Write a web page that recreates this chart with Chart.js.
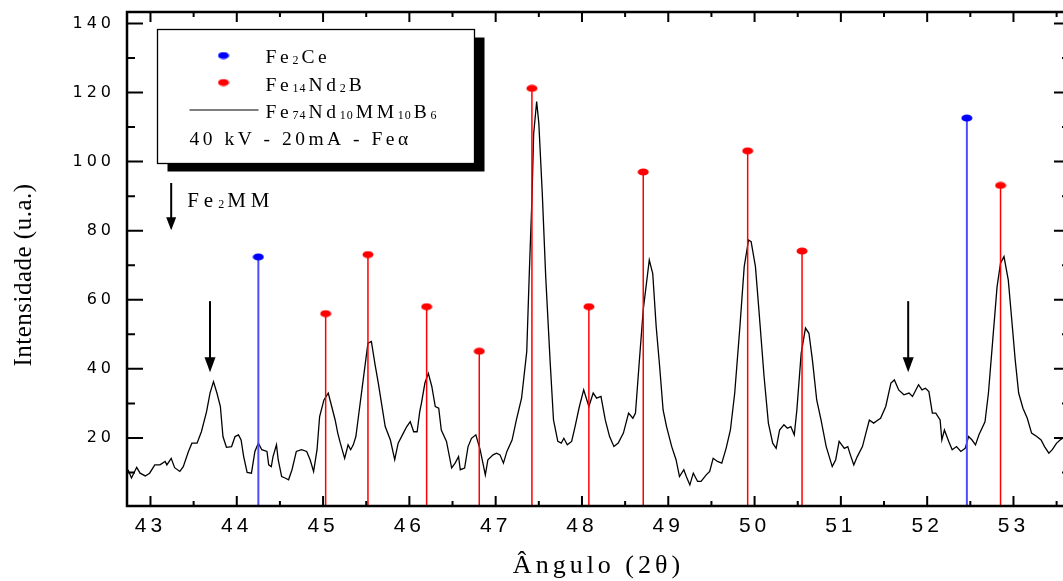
<!DOCTYPE html>
<html>
<head>
<meta charset="utf-8">
<script src="https://cdn.jsdelivr.net/npm/chart.js@4.4.1/dist/chart.umd.min.js"></script>
<style>
  html, body { margin: 0; padding: 0; background: #fff; overflow: hidden; }
  #wrap { width: 1063px; height: 581px; overflow: hidden; }
  canvas { display: block; }
</style>
</head>
<body>
<div id="wrap"><canvas id="chart" width="1080" height="581"></canvas></div>
<script>
// XRD scan Fe74Nd10MM10B6
const scanAngle = [
  42.74, 42.78, 42.84, 42.88, 42.94, 42.99, 43.05, 43.11, 43.17, 43.19, 43.24, 43.28, 43.34, 43.38,
  43.44, 43.48, 43.54, 43.59, 43.65, 43.69, 43.73, 43.77, 43.81, 43.84, 43.88, 43.94, 43.98, 44.02,
  44.05, 44.08, 44.12, 44.17, 44.21, 44.25, 44.29, 44.35, 44.37, 44.40, 44.42, 44.46, 44.48, 44.52,
  44.56, 44.60, 44.64, 44.69, 44.75, 44.81, 44.85, 44.89, 44.93, 44.96, 45.01, 45.06, 45.10, 45.14,
  45.17, 45.20, 45.25, 45.29, 45.32, 45.35, 45.38, 45.41, 45.47, 45.52, 45.56, 45.60, 45.64, 45.68,
  45.72, 45.78, 45.83, 45.87, 45.93, 45.97, 46.01, 46.05, 46.09, 46.12, 46.14, 46.18, 46.22, 46.26,
  46.30, 46.34, 46.37, 46.43, 46.49, 46.53, 46.57, 46.59, 46.64, 46.68, 46.72, 46.77, 46.82, 46.88,
  46.91, 46.97, 47.01, 47.05, 47.09, 47.13, 47.19, 47.24, 47.30, 47.36, 47.39, 47.42, 47.44, 47.475,
  47.50, 47.54, 47.58, 47.63, 47.67, 47.72, 47.76, 47.79, 47.83, 47.88, 47.92, 47.97, 48.02, 48.08,
  48.13, 48.17, 48.22, 48.27, 48.32, 48.37, 48.42, 48.48, 48.54, 48.59, 48.62, 48.66, 48.71, 48.78,
  48.82, 48.86, 48.90, 48.94, 48.98, 49.04, 49.09, 49.13, 49.18, 49.21, 49.25, 49.29, 49.34, 49.38,
  49.44, 49.48, 49.52, 49.57, 49.62, 49.67, 49.72, 49.77, 49.83, 49.88, 49.93, 49.96, 50.01, 50.05,
  50.11, 50.16, 50.21, 50.25, 50.29, 50.34, 50.38, 50.42, 50.46, 50.49, 50.54, 50.59, 50.63, 50.67,
  50.72, 50.77, 50.83, 50.90, 50.94, 50.98, 51.04, 51.08, 51.11, 51.15, 51.19, 51.25, 51.29, 51.33,
  51.38, 51.43, 51.46, 51.52, 51.58, 51.62, 51.67, 51.73, 51.79, 51.83, 51.90, 51.94, 51.98, 52.02,
  52.06, 52.10, 52.15, 52.17, 52.20, 52.25, 52.29, 52.34, 52.39, 52.44, 52.48, 52.52, 52.56, 52.60,
  52.67, 52.71, 52.76, 52.81, 52.85, 52.89, 52.94, 52.98, 53.02, 53.06, 53.11, 53.16, 53.21, 53.27,
  53.32, 53.36, 53.41, 53.45, 53.50, 53.54, 53.57, 53.66,
];
const scanIntensity = [
  10.8, 8.4, 11.5, 9.8, 9.0, 9.8, 12.2, 12.2, 13.2, 12.2, 14.1, 11.4, 10.3, 11.7,
  16.1, 18.5, 18.5, 21.8, 27.6, 33.0, 36.3, 33.0, 29.1, 20.4, 17.3, 17.5, 20.4, 20.9,
  19.4, 14.6, 10.0, 9.8, 16.1, 18.5, 16.6, 16.1, 12.2, 11.7, 14.6, 18.0, 13.7, 8.8,
  8.4, 7.9, 10.8, 16.1, 16.6, 16.1, 13.7, 10.3, 16.6, 26.2, 31.0, 33.0, 29.1, 25.2,
  21.4, 18.5, 14.1, 18.0, 16.6, 18.0, 20.4, 26.2, 37.8, 47.4, 47.9, 41.6, 35.9, 29.6,
  23.3, 19.4, 13.7, 18.5, 21.4, 23.3, 24.7, 21.8, 21.8, 27.6, 30.1, 35.9, 38.7, 34.9,
  29.1, 28.6, 22.3, 19.0, 11.3, 12.7, 14.6, 10.8, 11.3, 17.5, 19.9, 20.9, 16.6, 9.3,
  13.7, 15.1, 15.6, 15.1, 12.7, 16.1, 19.4, 25.2, 31.5, 45.0, 68.0, 89.0, 108.0, 117.4,
  111.1, 90.8, 66.6, 42.6, 25.2, 19.0, 18.5, 19.9, 18.0, 19.0, 23.3, 29.1, 33.9, 29.1,
  33.0, 31.5, 32.0, 25.2, 20.4, 17.5, 18.5, 21.4, 27.2, 25.7, 27.2, 40.7, 57.1, 71.5,
  67.6, 52.2, 40.7, 28.1, 23.3, 17.5, 13.7, 8.8, 10.8, 8.8, 6.4, 9.8, 7.4, 7.4,
  9.3, 10.3, 14.1, 13.2, 12.7, 17.0, 22.3, 33.0, 52.2, 69.6, 77.3, 76.8, 69.6, 57.1,
  37.8, 24.3, 18.5, 17.0, 22.3, 23.8, 22.8, 23.3, 20.9, 28.1, 44.5, 51.8, 50.3, 42.6,
  31.0, 25.2, 17.5, 11.7, 13.7, 19.0, 17.0, 17.5, 15.1, 12.2, 14.6, 17.5, 21.4, 25.2,
  24.3, 25.2, 25.7, 29.1, 35.9, 36.8, 33.9, 32.5, 33.0, 32.0, 35.4, 33.9, 34.4, 33.4,
  27.2, 27.2, 25.2, 19.4, 22.3, 19.0, 16.6, 17.5, 16.1, 17.0, 20.4, 19.4, 18.0, 20.9,
  24.7, 33.0, 48.4, 63.8, 70.6, 72.5, 65.7, 54.2, 42.6, 33.0, 28.6, 25.7, 21.4, 20.4,
  19.4, 17.5, 15.6, 16.6, 18.5, 19.4, 19.9, 20.3,
];

// reference patterns (stick lines)
const fe2ceAngle = [44.25, 52.46];
const fe2ceIntensity = [72.4, 112.6];
const fe14nd2bAngle = [45.03, 45.52, 46.20, 46.81, 47.42, 48.08, 48.71, 49.92, 50.55, 52.85];
const fe14nd2bIntensity = [56.0, 73.1, 58.0, 45.1, 121.2, 58.0, 97.0, 103.1, 74.1, 93.1];

// Fe2MM markers: arrows from top value down to tip value
const fe2mmAngle = [43.69, 51.78];
const fe2mmArrowFrom = [59.6, 59.6];
const fe2mmArrowTo = [39.0, 39.0];
const keyArrow = { angle: 43.24, from: 93.8, to: 80.1 };

const xTicks = [43, 44, 45, 46, 47, 48, 49, 50, 51, 52, 53];
const xMinorTicks = [43.5, 44.5, 45.5, 46.5, 47.5, 48.5, 49.5, 50.5, 51.5, 52.5, 53.5];
const yTicks = [20, 40, 60, 80, 100, 120, 140];
const yMinorTicks = [10, 30, 50, 70, 90, 110, 130];

const RED = '#ff0000';
const BLUE = '#0000ff';
const SERIF = '"Liberation Serif", "Times New Roman", serif';

function ellipseDot(color) {
  const c = document.createElement('canvas');
  c.width = 12;
  c.height = 8;
  const g = c.getContext('2d');
  g.fillStyle = color;
  g.beginPath();
  g.ellipse(6, 4, 5.5, 3.6, 0, 0, Math.PI * 2);
  g.fill();
  return c;
}

const blueDot = ellipseDot(BLUE);
const redDot = ellipseDot(RED);

function stickPoints(angles, heights) {
  return angles.flatMap((a, i) => [{ x: a, y: 0 }, { x: a, y: heights[i] }, { x: a, y: null }]);
}

function stickDataset(label, angles, heights, lineColor, dot, width) {
  return {
    label,
    data: stickPoints(angles, heights),
    borderColor: lineColor,
    borderWidth: width,
    pointStyle: dot,
    pointRadius: (ctx) => (ctx.dataIndex % 3 === 1 ? 5 : 0),
    pointHoverRadius: 0,
    spanGaps: false,
    tension: 0,
  };
}

// text with subscripts; subscripts get tighter spacing
function richText(ctx, x, y, parts, size, subSize, spacing) {
  parts.forEach(([text, sub]) => {
    ctx.font = `${sub ? subSize : size}px ${SERIF}`;
    ctx.letterSpacing = sub ? '1px' : `${spacing}px`;
    ctx.fillText(text, x, y + (sub ? 1 : 0));
    x += ctx.measureText(text).width + (sub ? 2 : 0);
  });
}

function arrowDown(ctx, px, y0, y1, head, half) {
  ctx.beginPath();
  ctx.moveTo(px, y0);
  ctx.lineTo(px, y1 - head + 1);
  ctx.stroke();
  ctx.beginPath();
  ctx.moveTo(px - half, y1 - head);
  ctx.lineTo(px + half, y1 - head);
  ctx.lineTo(px, y1);
  ctx.closePath();
  ctx.fill();
}

const frameAndNotes = {
  id: 'frameAndNotes',
  beforeDraw(chart) {
    chart.ctx.letterSpacing = '4px';
  },
  afterDraw(chart) {
    const { ctx, chartArea: a } = chart;
    const { x, y } = chart.scales;
    ctx.save();
    ctx.letterSpacing = '0px';
    ctx.strokeStyle = '#000';
    ctx.fillStyle = '#000';

    // inward ticks on all four sides
    ctx.lineWidth = 2;
    ctx.beginPath();
    const xt = (list, len) => list.forEach((v) => {
      const px = x.getPixelForValue(v);
      ctx.moveTo(px, a.bottom); ctx.lineTo(px, a.bottom - len);
      ctx.moveTo(px, a.top); ctx.lineTo(px, a.top + len);
    });
    const yt = (list, len) => list.forEach((v) => {
      const py = y.getPixelForValue(v);
      ctx.moveTo(a.left, py); ctx.lineTo(a.left + len, py);
      ctx.moveTo(a.right, py); ctx.lineTo(a.right - len, py);
    });
    xt(xTicks, 10);
    xt(xMinorTicks, 5);
    yt(yTicks, 16);
    yt(yMinorTicks, 8);
    ctx.stroke();

    ctx.lineWidth = 2.5;
    ctx.strokeRect(a.left, a.top, a.right - a.left, a.bottom - a.top);

    // Fe2MM arrows
    ctx.lineWidth = 2;
    fe2mmAngle.forEach((ang, i) => {
      arrowDown(ctx, x.getPixelForValue(ang), y.getPixelForValue(fe2mmArrowFrom[i]),
        y.getPixelForValue(fe2mmArrowTo[i]), 15, 5.5);
    });
    const kx = x.getPixelForValue(keyArrow.angle);
    const ky = y.getPixelForValue(keyArrow.from);
    arrowDown(ctx, kx, ky, y.getPixelForValue(keyArrow.to), 13, 5);
    richText(ctx, kx + 16, ky + 24, [['Fe'], ['2', true], ['MM']], 21, 12, 5);

    // legend box with drop shadow
    const bx = a.left + 30.5;
    const by = a.top + 17.5;
    const bw = 317;
    const bh = 134;
    ctx.fillRect(bx + 10, by + 8, bw, bh);
    ctx.fillStyle = '#fff';
    ctx.fillRect(bx, by, bw, bh);
    ctx.lineWidth = 1.3;
    ctx.strokeRect(bx, by, bw, bh);
    ctx.fillStyle = '#000';

    ctx.drawImage(blueDot, bx + 60, by + 22);
    ctx.drawImage(redDot, bx + 60, by + 49);
    ctx.lineWidth = 1.2;
    ctx.beginPath();
    ctx.moveTo(bx + 32, by + 80.5);
    ctx.lineTo(bx + 101, by + 80.5);
    ctx.stroke();

    const tx = bx + 108;
    richText(ctx, tx, by + 33, [['Fe'], ['2', true], ['Ce']], 19.5, 12, 3.7);
    richText(ctx, tx, by + 61, [['Fe'], ['14', true], ['Nd'], ['2', true], ['B']], 19.5, 12, 3.7);
    richText(ctx, tx, by + 88, [['Fe'], ['74', true], ['Nd'], ['10', true], ['MM'], ['10', true], ['B'], ['6', true]], 19.5, 12, 3.7);
    richText(ctx, bx + 32, by + 115, [['40 kV - 20mA - Feα']], 19.5, 12, 3.5);

    // y axis title
    ctx.letterSpacing = '0.5px';
    ctx.font = `25px ${SERIF}`;
    ctx.textAlign = 'center';
    ctx.translate(31, 275);
    ctx.rotate(-Math.PI / 2);
    ctx.fillText('Intensidade (u.a.)', 0, 0);
    ctx.restore();
  },
};

Chart.defaults.color = '#000';
Chart.defaults.font.family = '"Liberation Sans", Arial, sans-serif';

new Chart(document.querySelector('#chart'), {
  type: 'line',
  data: {
    datasets: [
      stickDataset('Fe2Ce', fe2ceAngle, fe2ceIntensity, '#4d4dff', blueDot, 2),
      stickDataset('Fe14Nd2B', fe14nd2bAngle, fe14nd2bIntensity, RED, redDot, 1.5),
      {
        label: 'Fe74Nd10MM10B6',
        data: scanAngle.map((a, i) => ({ x: a, y: scanIntensity[i] })),
        borderColor: '#000',
        borderWidth: 1.3,
        pointRadius: 0,
        tension: 0,
      },
    ],
  },
  options: {
    responsive: false,
    animation: false,
    events: [],
    layout: { padding: { left: 0, top: 12, right: 10, bottom: 0 } },
    plugins: { legend: { display: false }, tooltip: { enabled: false } },
    scales: {
      x: {
        type: 'linear',
        min: 42.728,
        max: 53.655,
        afterBuildTicks: (scale) => { scale.ticks = xTicks.map((v) => ({ value: v })); },
        afterFit: (scale) => {
          scale.height = 75;
          scale.paddingLeft = 0;
          scale.paddingRight = 0;
        },
        grid: { display: false, drawTicks: false },
        border: { display: false },
        ticks: {
          font: { size: 21 },
          padding: 8,
          maxRotation: 0,
          autoSkip: false,
          callback: (v) => String(v),
        },
        title: {
          display: true,
          text: 'Ângulo (2θ)',
          font: { family: SERIF, size: 26 },
          padding: { top: 0, bottom: -1 },
        },
      },
      y: {
        min: 0.3,
        max: 143.3,
        afterBuildTicks: (scale) => { scale.ticks = yTicks.map((v) => ({ value: v })); },
        afterFit: (scale) => {
          scale.width = 127;
          scale.paddingTop = 0;
          scale.paddingBottom = 0;
        },
        grid: { display: false, drawTicks: false },
        border: { display: false },
        ticks: {
          font: { family: '"DejaVu Sans", sans-serif', size: 16 },
          padding: 12,
          autoSkip: false,
          callback: (v) => String(v),
        },
      },
    },
  },
  plugins: [frameAndNotes],
});
</script>
</body>
</html>
